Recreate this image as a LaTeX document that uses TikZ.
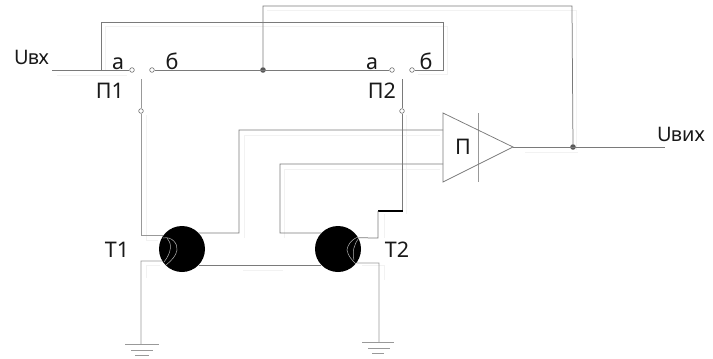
\documentclass[tikz,border=0pt]{standalone}
\usepackage{fontspec}
\setmainfont{Noto Sans}
\tikzset{
  x=1pt,y=-1pt,
  wire/.style={draw=black!52,line width=0.75pt},
  wirelt/.style={draw=black!40,line width=0.9pt},
  shadow/.style={draw=black!5,line width=0.6pt},
  thick wire/.style={draw=black,line width=1.3pt},
  contact/.style={circle,draw=black!55,fill=white,line width=0.6pt,inner sep=0pt,minimum size=4.6pt},
  junction/.style={circle,fill=black!65,inner sep=0pt,minimum size=5.6pt},
  transistor/.style={circle,fill=black,inner sep=0pt,minimum size=46pt},
  lbl/.style={inner sep=0pt,font=\fontsize{21.5pt}{23pt}\selectfont,text=black!90},
  lblin/.style={inner sep=0pt,font=\fontsize{20pt}{22pt}\selectfont,text=black!90},
  inner arc/.style={draw=white!70!black,line width=0.5pt},
}
\begin{document}
\begin{tikzpicture}
\useasboundingbox (0,0) rectangle (713,359);
% coordinates
\coordinate (in) at (52,70);
\coordinate (out) at (665,147);
\node[contact] (a1) at (132,70) {};
\node[contact] (b1) at (152,70) {};
\node[contact] (a2) at (392,70) {};
\node[contact] (b2) at (412,70) {};
\node[contact] (c1) at (141,111) {};
\node[contact] (c2) at (402,111) {};
\coordinate (s1) at (141,79);
\coordinate (s2) at (402,79);
\node[junction] (j1) at (263,70) {};
\node[junction] (j2) at (573,147) {};
\coordinate (tl) at (101,22);
\coordinate (tr) at (443,22);
\coordinate (br) at (443,70);
\coordinate (jin) at (101,70);
\coordinate (f1) at (263,6);
\coordinate (f2) at (572,6);
% faint ghost lines
\draw[shadow] (57,75) -- (127,75) (105,26) -- (447,26) -- (447,74) -- (418,74)
  (105,26) -- (105,70) (267,10) -- (576,10) -- (576,150) (525,152) -- (578,152)
  (146,115) -- (146,240) -- (158,240) (406,115) -- (406,214) (384,214) -- (384,238)
  (244,135) -- (440,135) (244,135) -- (244,238) (284,169) -- (440,169) (284,169) -- (284,238)
  (146,265) -- (146,278) (146,265) -- (160,265) (384,265) -- (384,280) (362,265) -- (384,265) (243,270) -- (283,270);
% transistors
\node[transistor] (t1) at (182,249) {};
\node[transistor] (t2) at (338,249) {};
% switch wires
\draw[wire] (in) -- (a1);
\draw[wire] (b1) -- (a2);
\draw[wire] (b2) -- (br) -- (tr) -- (tl) -- (jin);
\draw[wire] (j1) -- (f1) -- (f2) -- (j2);
\draw[wirelt] (s1) -- (c1);
\draw[wirelt] (c1) |- (t1.143);
\draw[wire] (s2) -- (c2);
\draw[wire] (c2) -- (402,211);
\draw[thick wire] (402.5,211) -- (378,211);
\draw[wire] (378,211) -- (378,238) -- (t2.29);
% amplifier
\coordinate (p1) at (443,113);
\coordinate (p2) at (443,182);
\coordinate (p3) at (513,147);
\draw[wirelt] (478,113) -- (478,182);
\draw[wire] (p1) -- (p3) -- (p2) -- cycle;
\draw[wire] (p3) -- (out);
\draw[wire] (t1.44) -- (239,233) -- (239,130) -- (443,130);
\draw[wire] (t2.136) -- (280,233) -- (280,164) -- (443,164);
\draw[wire] (t1.-44) -- (t2.224);
% emitters & ground
\draw[wirelt] (t1.211) -- (141,261) -- (141,344);
\draw[wirelt] (t2.-37) -- (379,263) -- (379,342);
\draw[wirelt] (125,344) -- (159,344) (131,350) -- (153,350) (135,355) -- (149,355);
\draw[wirelt] (362,342) -- (394,342) (368,348) -- (390,348) (372,353) -- (384,353);
% inner arcs
\draw[inner arc] (163,238) .. controls (172,236) and (178,244) .. (177,250) .. controls (176,256) and (172,260) .. (166,265);
\draw[inner arc] (167,238) .. controls (172,243) and (172,252) .. (164,262);
\draw[inner arc] (358,237) .. controls (350,240) and (347,247) .. (347,250) .. controls (348,256) and (352,260) .. (356,264);
\draw[inner arc] (359,238) .. controls (354,244) and (352,252) .. (354,260);
% labels
\node[lblin,anchor=west] (uin) at (14,57) {U\kern-1pt вх};
\node[lbl] (la1) at (118,63.5) {а};
\node[lbl] (lb1) at (172,61.5) {б};
\node[lbl] (lp1) at (110,91) {П1};
\node[lbl] (la2) at (372,63.5) {а};
\node[lbl] (lb2) at (426,61.5) {б};
\node[lbl] (lp2) at (382,91) {П2};
\node[lbl] (lp) at (463,147) {П};
\node[lblin,anchor=west] (uout) at (657,134) {U\kern-1pt вих};
\node[lbl] (lt1) at (117,249.5) {Т1};
\node[lbl] (lt2) at (397,250) {Т2};
\end{tikzpicture}
\end{document}
